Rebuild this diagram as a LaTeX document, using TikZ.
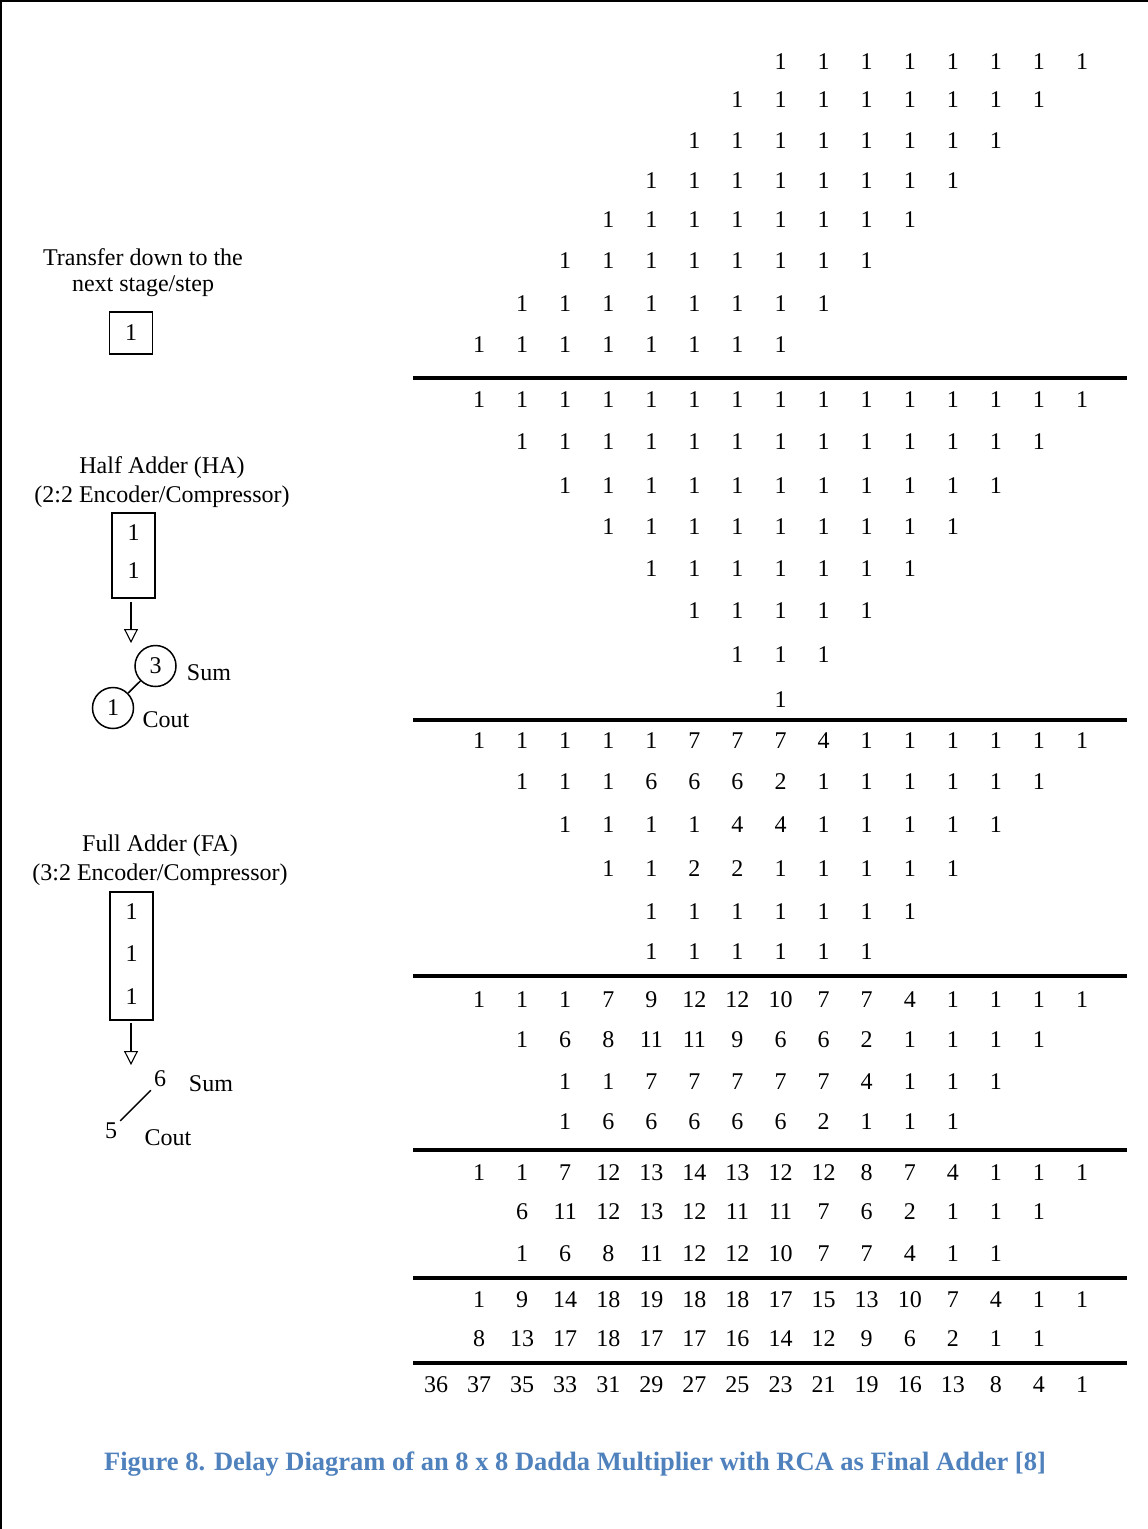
\documentclass[tikz,border=0pt]{standalone}
\usepackage{fontspec}
\setmainfont{Liberation Serif}
\usetikzlibrary{arrows.meta}
\definecolor{capblue}{RGB}{79,129,189}
\newcommand\numrow[4]{\foreach \v [count=\i from 0] in {#4} {\node[num] (#1-\i) at ({436+43.07*(#3+\i)},#2) {\v};}}
\begin{document}
\begin{tikzpicture}[x=1pt,y=-1pt,
  num/.style={inner sep=0pt, font=\fontsize{24}{29}\selectfont},
  lbl/.style={inner sep=0pt, font=\fontsize{24}{29}\selectfont},
  rulel/.style={line width=3.5pt},
  boxn/.style={draw, line width=1.4pt},
  circn/.style={draw, circle, line width=1.5pt, minimum size=41pt, inner sep=0pt, font=\fontsize{24}{29}\selectfont},
  arr/.style={line width=1.1pt, -{Triangle[open, length=14pt, width=14pt, line width=1.1pt]}},
  caption/.style={inner sep=0pt, text=capblue, font=\fontsize{26.5}{31}\selectfont\bfseries}]
\useasboundingbox (0,0) rectangle (1148,1529);
% frame (top and left)
\draw[line width=1.8pt] (0.9,1529) -- (0.9,0.9) -- (1148,0.9);
% stage 1
\numrow{a0}{62}{8}{1,1,1,1,1,1,1,1}
\numrow{a1}{100}{7}{1,1,1,1,1,1,1,1}
\numrow{a2}{141}{6}{1,1,1,1,1,1,1,1}
\numrow{a3}{181}{5}{1,1,1,1,1,1,1,1}
\numrow{a4}{220}{4}{1,1,1,1,1,1,1,1}
\numrow{a5}{261}{3}{1,1,1,1,1,1,1,1}
\numrow{a6}{304}{2}{1,1,1,1,1,1,1,1}
\numrow{a7}{345}{1}{1,1,1,1,1,1,1,1}
% stage 2
\numrow{b0}{400}{1}{1,1,1,1,1,1,1,1,1,1,1,1,1,1,1}
\numrow{b1}{442}{2}{1,1,1,1,1,1,1,1,1,1,1,1,1}
\numrow{b2}{486}{3}{1,1,1,1,1,1,1,1,1,1,1}
\numrow{b3}{527}{4}{1,1,1,1,1,1,1,1,1}
\numrow{b4}{569}{5}{1,1,1,1,1,1,1}
\numrow{b5}{611}{6}{1,1,1,1,1}
\numrow{b6}{655}{7}{1,1,1}
\numrow{b7}{700}{8}{1}
% stage 3
\numrow{c0}{741}{1}{1,1,1,1,1,7,7,7,4,1,1,1,1,1,1}
\numrow{c1}{782}{2}{1,1,1,6,6,6,2,1,1,1,1,1,1}
\numrow{c2}{825}{3}{1,1,1,1,4,4,1,1,1,1,1}
\numrow{c3}{869}{4}{1,1,2,2,1,1,1,1,1}
\numrow{c4}{912}{5}{1,1,1,1,1,1,1}
\numrow{c5}{952}{5}{1,1,1,1,1,1}
% stage 4
\numrow{d0}{1000}{1}{1,1,1,7,9,12,12,10,7,7,4,1,1,1,1}
\numrow{d1}{1040}{2}{1,6,8,11,11,9,6,6,2,1,1,1,1}
\numrow{d2}{1082}{3}{1,1,7,7,7,7,7,4,1,1,1}
\numrow{d3}{1122}{3}{1,6,6,6,6,6,2,1,1,1}
% stage 5
\numrow{e0}{1173}{1}{1,1,7,12,13,14,13,12,12,8,7,4,1,1,1}
\numrow{e1}{1212}{2}{6,11,12,13,12,11,11,7,6,2,1,1,1}
\numrow{e2}{1254}{2}{1,6,8,11,12,12,10,7,7,4,1,1}
% stage 6
\numrow{f0}{1300}{1}{1,9,14,18,19,18,18,17,15,13,10,7,4,1,1}
\numrow{f1}{1339}{1}{8,13,17,18,17,17,16,14,12,9,6,2,1,1}
% final
\numrow{g0}{1385}{0}{36,37,35,33,31,29,27,25,23,21,19,16,13,8,4,1}
% rules
\foreach \k/\y in {1/378,2/720,3/976,4/1150,5/1278,6/1363} {
  \coordinate (r\k a) at (413,\y);
  \coordinate (r\k b) at (1127,\y);
  \draw[rulel] (r\k a) -- (r\k b);
}
% legend: transfer
\node[lbl] (t1) at (143,257) {Transfer down to the};
\node[lbl] (t2) at (143,286) {next stage/step};
\node[boxn, minimum width=43pt, minimum height=42pt, inner sep=0pt, font=\fontsize{24}{29}\selectfont] (tb) at (131,333) {1};
% legend: half adder
\node[lbl] (h1) at (162,468) {Half Adder (HA)};
\node[lbl] (h2) at (162,497) {(2:2 Encoder/Compressor)};
\node[boxn, minimum width=43pt, minimum height=85pt] (hb) at (133.5,555.5) {};
\node[num] (hb1) at (133.5,533) {1};
\node[num] (hb2) at (133.5,571) {1};
\coordinate (ha0) at (131,602);
\coordinate (ha1) at (131,643);
\draw[arr] (ha0) -- (ha1);
\node[circn] (hs) at (155.5,666) {3};
\node[circn] (hc) at (113,708) {1};
\draw[line width=1.5pt] (hc) -- (hs);
\node[lbl] (hsl) at (209,673) {Sum};
\node[lbl] (hcl) at (166,720) {Cout};
% legend: full adder
\node[lbl] (f1l) at (160,846) {Full Adder (FA)};
\node[lbl] (f2l) at (160,875) {(3:2 Encoder/Compressor)};
\node[boxn, minimum width=43pt, minimum height=128pt] (fb) at (131.5,956) {};
\node[num] (fb1) at (131.5,912) {1};
\node[num] (fb2) at (131.5,954) {1};
\node[num] (fb3) at (131.5,997) {1};
\coordinate (fa0) at (131,1023);
\coordinate (fa1) at (131,1065);
\draw[arr] (fa0) -- (fa1);
\node[num] (fs) at (160,1079) {6};
\node[num] (fc) at (111,1131) {5};
\path (fc.north east) ++(3,-2) coordinate (fl0) (fs.south west) ++(-3,3) coordinate (fl1);
\draw[line width=1.4pt] (fl0) -- (fl1);
\node[lbl] (fsl) at (211,1084) {Sum};
\node[lbl] (fcl) at (168,1138) {Cout};
% caption
\node[caption] (cap) at (575,1464) {Figure 8. Delay Diagram of an 8 x 8 Dadda Multiplier with RCA as Final Adder [8]};
\end{tikzpicture}
\end{document}
